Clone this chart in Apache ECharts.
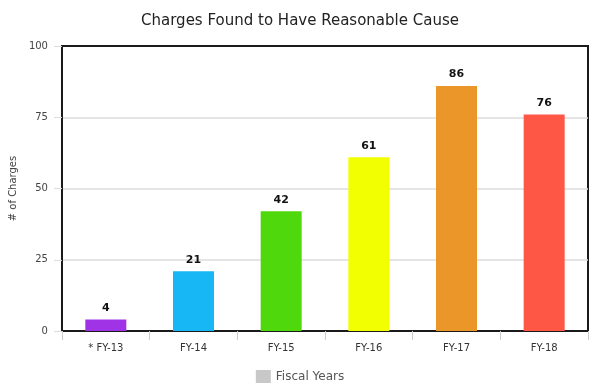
<!DOCTYPE html>
<html><head><meta charset="utf-8">
<script src="https://cdn.jsdelivr.net/npm/echarts@6/dist/echarts.min.js"></script>
<style>html,body{margin:0;padding:0;background:#fff}#c{width:600px;height:388px}</style>
</head><body><div id="c"></div>
<script>
const categories = ['* FY-13', 'FY-14', 'FY-15', 'FY-16', 'FY-17', 'FY-18'];
const values = [4, 21, 42, 61, 86, 76];
const barColors = ['#a133e6', '#17b7f5', '#4fd80c', '#f2ff00', '#ea9628', '#ff5746'];
const yTicks = [0, 25, 50, 75, 100];
const seriesName = 'Fiscal Years';
const titleText = 'Charges Found to Have Reasonable Cause';
const yName = '# of Charges';

const chart = echarts.init(document.getElementById('c'));
chart.setOption({
  animation: false,
  textStyle: { fontFamily: 'DejaVu Sans' },
  title: { text: titleText, left: 'center', top: 9,
    textStyle: { fontFamily: 'DejaVu Sans', fontSize: 15, fontWeight: 'normal', color: '#222' } },
  legend: { bottom: 0, left: 'center', itemWidth: 15, itemHeight: 13, icon: 'rect', itemGap: 6,
    textStyle: { color: '#555', fontSize: 12 }, data: [seriesName] },
  grid: { left: 61, right: 12, top: 46, bottom: 57, show: true, borderColor: '#1a1a1a', borderWidth: 2, backgroundColor: 'transparent' },
  xAxis: { type: 'category', data: categories,
    axisLine: { lineStyle: { color: '#1a1a1a', width: 2 } },
    axisTick: { show: true, alignWithLabel: false, length: 9, lineStyle: { color: '#ccc' } },
    axisLabel: { color: '#333', fontSize: 10, margin: 12 } },
  yAxis: { type: 'value', min: yTicks[0], max: yTicks[yTicks.length - 1], interval: 25,
    name: yName, nameLocation: 'middle', nameGap: 42, nameRotate: 90,
    nameTextStyle: { color: '#444', fontSize: 10 },
    axisLine: { show: true, lineStyle: { color: '#1a1a1a', width: 2 } },
    axisTick: { show: true, length: 8, lineStyle: { color: '#ddd' } },
    splitLine: { showMaxLine: false, showMinLine: false, lineStyle: { color: '#ddd', width: 1.5 } },
    axisLabel: { color: '#444', fontSize: 10, margin: 14 } },
  series: [{
    name: seriesName, type: 'bar', barWidth: 41,
    itemStyle: { color: '#c8c8c8' },
    label: { show: true, position: 'top', distance: 6, fontWeight: 'bold', fontSize: 11, color: '#111' },
    data: values.map((v, i) => ({ value: v, itemStyle: { color: barColors[i] } }))
  }]
});
</script></body></html>
